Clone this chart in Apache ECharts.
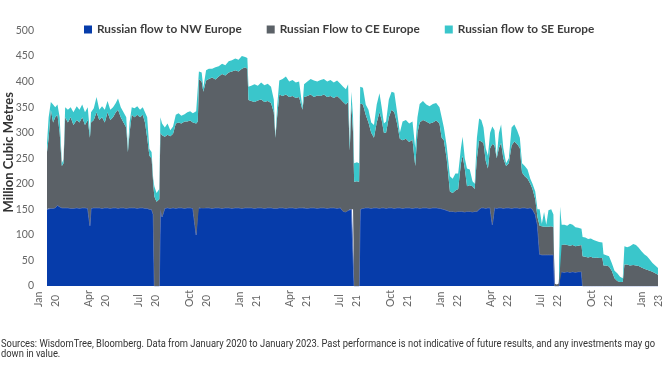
<!DOCTYPE html>
<html>
<head>
<meta charset="utf-8">
<script src="https://cdn.jsdelivr.net/npm/echarts@6/dist/echarts.min.js"></script>
<style>html,body{margin:0;padding:0;background:#fff}#c{width:670px;height:380px}</style>
</head>
<body>
<div id="c"></div>
<script>
// ---- data (million cubic metres per day) ----
const dates = [
 // 2020
 '2020-01-01','2020-01-04','2020-01-08','2020-01-12','2020-01-16','2020-01-20','2020-01-24','2020-01-28','2020-01-31',
 '2020-02-03','2020-02-08','2020-02-13','2020-02-18','2020-02-24','2020-02-29',
 '2020-03-05','2020-03-10','2020-03-15','2020-03-19','2020-03-21','2020-03-26','2020-03-31',
 '2020-04-05','2020-04-10','2020-04-15','2020-04-20','2020-04-25','2020-04-30',
 '2020-05-05','2020-05-09','2020-05-14','2020-05-19','2020-05-24','2020-05-27','2020-05-30',
 '2020-06-03','2020-06-08','2020-06-13','2020-06-18','2020-06-23','2020-06-27',
 '2020-07-01','2020-07-05','2020-07-09','2020-07-12','2020-07-14','2020-07-18','2020-07-23','2020-07-25','2020-07-28',
 '2020-08-02','2020-08-07','2020-08-12','2020-08-17','2020-08-22','2020-08-27',
 '2020-09-01','2020-09-07','2020-09-12','2020-09-17','2020-09-22','2020-09-28',
 '2020-10-01','2020-10-03','2020-10-08','2020-10-11','2020-10-16','2020-10-21','2020-10-27',
 '2020-11-02','2020-11-08','2020-11-14','2020-11-20','2020-11-26',
 '2020-12-02','2020-12-08','2020-12-14','2020-12-20','2020-12-26','2020-12-30',
 // 2021
 '2021-01-01','2021-01-06','2021-01-12','2021-01-18','2021-01-24','2021-01-30',
 '2021-02-05','2021-02-11','2021-02-16','2021-02-19','2021-02-22','2021-02-26',
 '2021-03-04','2021-03-10','2021-03-16','2021-03-22','2021-03-28',
 '2021-04-03','2021-04-09','2021-04-12','2021-04-18','2021-04-24','2021-04-30',
 '2021-05-06','2021-05-12','2021-05-18','2021-05-24','2021-05-30',
 '2021-06-05','2021-06-11','2021-06-17','2021-06-22','2021-06-27',
 '2021-07-01','2021-07-04','2021-07-07','2021-07-10','2021-07-12','2021-07-17','2021-07-21','2021-07-23','2021-07-28',
 '2021-08-02','2021-08-07','2021-08-12','2021-08-17','2021-08-22','2021-08-27','2021-08-31',
 '2021-09-04','2021-09-08','2021-09-13','2021-09-18','2021-09-23','2021-09-28',
 '2021-10-03','2021-10-08','2021-10-14','2021-10-20','2021-10-26','2021-10-31',
 '2021-11-04','2021-11-08','2021-11-14','2021-11-20','2021-11-26',
 '2021-12-02','2021-12-08','2021-12-14','2021-12-18','2021-12-22','2021-12-27',
 // 2022
 '2022-01-02','2022-01-07','2022-01-12','2022-01-17','2022-01-22','2022-01-25','2022-01-29',
 '2022-02-02','2022-02-07','2022-02-12','2022-02-16','2022-02-20','2022-02-24','2022-02-28',
 '2022-03-04','2022-03-08','2022-03-12','2022-03-16','2022-03-20','2022-03-24','2022-03-28',
 '2022-04-01','2022-04-05','2022-04-09','2022-04-14','2022-04-19','2022-04-24','2022-04-29',
 '2022-05-04','2022-05-09','2022-05-13','2022-05-18','2022-05-23','2022-05-28',
 '2022-06-01','2022-06-06','2022-06-10','2022-06-14','2022-06-18','2022-06-22','2022-06-26','2022-06-30',
 '2022-07-05','2022-07-09','2022-07-11','2022-07-15','2022-07-19','2022-07-21','2022-07-24','2022-07-29',
 '2022-08-03','2022-08-08','2022-08-13','2022-08-18','2022-08-23','2022-08-29','2022-08-31',
 '2022-09-05','2022-09-10','2022-09-15','2022-09-20','2022-09-25','2022-09-30',
 '2022-10-06','2022-10-08','2022-10-13','2022-10-18','2022-10-23','2022-10-28',
 '2022-11-02','2022-11-07','2022-11-12','2022-11-15','2022-11-20','2022-11-25',
 '2022-12-01','2022-12-06','2022-12-11','2022-12-16','2022-12-21','2022-12-26','2022-12-31',
 // 2023
 '2023-01-05','2023-01-10','2023-01-15'
];

const nwFlow = [
 150,152,152,152,153,158,155,153,153,
 153,153,152,152,153,152,
 153,153,152,118,152,153,153,
 153,152,153,153,152,153,
 153,152,153,153,152,152,153,
 153,153,152,153,153,152,
 152,150,150,140,0,0,0,150,135,
 152,153,152,153,152,153,
 153,152,153,153,152,100,
 152,153,153,152,153,153,152,
 153,153,152,153,153,
 152,153,153,152,153,153,
 153,153,152,153,153,152,
 153,153,152,153,152,153,
 153,152,153,153,152,
 153,153,153,152,153,153,
 152,153,153,152,153,
 153,152,153,146,145,
 148,150,150,150,0,0,0,150,152,
 153,153,152,153,153,152,153,
 153,152,153,153,152,153,
 153,152,153,153,152,153,
 153,152,153,153,152,
 153,153,152,151,150,148,
 146,146,145,146,146,146,145,
 146,146,145,146,146,150,153,
 153,152,153,153,120,153,152,
 153,153,152,153,153,152,153,
 153,152,153,153,152,153,
 150,140,120,62,61,61,61,61,
 61,61,0,0,0,28,28,27,
 28,27,28,27,28,28,0,
 0,0,0,0,0,0,
 0,0,0,0,0,0,
 0,0,0,0,0,0,
 0,0,0,0,0,0,0,
 0,0,0
];

const ceFlow = [
 112,138,193,168,177,177,145,82,87,
 177,167,178,163,172,168,
 177,162,173,172,168,172,187,
 172,178,167,187,173,177,
 187,193,177,167,158,110,147,
 182,177,183,177,182,168,
 138,105,100,60,175,165,170,150,160,
 140,143,141,145,166,167,
 165,170,169,171,168,218,
 170,252,247,228,249,252,256,
 251,257,263,259,265,
 268,269,267,273,275,272,
 211,209,208,210,212,208,
 209,205,188,137,178,222,
 219,223,217,219,216,
 217,192,217,220,222,217,
 221,219,222,218,219,
 215,220,213,214,210,
 212,115,205,150,204,205,204,207,203,
 182,167,148,137,167,188,172,
 147,148,177,192,188,165,
 135,133,135,129,134,82,
 147,168,172,169,166,
 167,171,166,139,135,102,
 39,36,42,44,94,109,85,
 49,51,50,44,104,135,130,
 127,93,77,117,158,122,98,
 117,127,98,82,87,123,130,
 125,118,69,62,58,47,
 40,30,15,56,56,55,55,55,
 56,54,5,3,5,52,52,54,
 52,52,52,51,51,52,58,
 57,56,57,55,56,55,
 55,40,40,38,30,15,
 10,8,8,42,42,40,
 41,40,39,36,34,32,30,
 28,25,22
];

const seFlow = [
 18,40,15,35,20,20,30,5,8,
 20,25,20,25,27,25,
 25,25,25,10,20,23,30,
 20,22,25,22,20,20,
 18,22,20,20,20,6,20,
 15,18,17,15,15,20,
 40,13,12,10,20,17,20,30,23,
 18,22,12,14,17,18,
 15,14,18,18,18,24,
 23,15,18,8,20,20,17,
 24,20,20,20,22,
 22,23,23,25,20,21,
 26,30,35,29,33,33,
 34,32,25,2,20,27,
 33,35,30,31,30,
 30,5,25,28,30,32,
 27,31,30,30,31,
 30,30,30,30,30,
 35,15,25,30,36,37,36,33,33,
 20,25,20,25,35,37,25,
 18,22,35,35,38,22,
 12,37,37,36,36,35,
 30,36,37,33,34,
 36,34,32,40,25,25,
 30,28,33,30,30,37,20,
 35,31,10,10,40,43,42,
 30,25,25,30,34,30,2,
 30,36,20,5,10,35,33,
 27,20,18,20,18,10,
 10,15,15,32,5,29,4,32,
 33,25,0,0,0,75,40,39,
 38,43,40,37,35,32,38,
 38,36,36,35,32,31,
 30,22,20,20,15,15,
 15,10,7,36,34,38,
 41,40,36,32,28,26,22,
 17,15,13
];

const seriesNames = ['Russian flow to NW Europe', 'Russian Flow to CE Europe', 'Russian flow to SE Europe'];
const tickDates = ['2020-01-01','2020-04-01','2020-07-01','2020-10-01','2021-01-01','2021-04-01','2021-07-01','2021-10-01','2022-01-01','2022-04-01','2022-07-01','2022-10-01','2023-01-01'];
const tickLabels = ['Jan\n20','Apr\n20','Jul\n20','Oct\n20','Jan\n21','Apr\n21','Jul\n21','Oct\n21','Jan\n22','Apr\n22','Jul\n22','Oct\n22','Jan\n23'];
const sourceLines = [
 'Sources: WisdomTree, Bloomberg. Data from January 2020 to January 2023. Past performance is not indicative of future results, and any investments may go',
 'down in value.'
];

// ---- styling ----
const colors = ['#063caa', '#5b6167', '#3ac6cb'];
const chart = echarts.init(document.getElementById('c'), null, {renderer: 'canvas'});
const toTime = d => Date.UTC(+d.slice(0, 4), +d.slice(5, 7) - 1, +d.slice(8, 10));
const tickTimes = tickDates.map(toTime);
const times = dates.map(toTime);
const xMin = tickTimes[0];
const xMax = times[times.length - 1];

const ctx = document.createElement('canvas').getContext('2d');
const srcFont = '10px Roboto';
ctx.font = srcFont;
const srcScale = 654 / ctx.measureText(sourceLines[0]).width;

const valueSets = [nwFlow, ceFlow, seFlow];
const series = valueSets.map((vals, i) => ({
  name: seriesNames[i],
  type: 'line',
  xAxisIndex: 0,
  stack: 'flow',
  symbol: 'none',
  showSymbol: false,
  data: times.map((t, j) => [t, vals[j]]),
  lineStyle: i === 0 ? {width: 1, color: '#5a77c0'} : {width: 1, color: colors[i], opacity: 0},
  itemStyle: {color: colors[i]},
  areaStyle: {color: colors[i], opacity: 1},
  emphasis: {disabled: true},
  z: 2 + i
}));

chart.setOption({
  animation: false,
  grid: {left: 47, right: 12, top: 30.5, bottom: 94, containLabel: false, outerBoundsMode: 'none'},
  legend: {
    left: 79, top: 18.5, itemWidth: 8, itemHeight: 8, itemGap: 25, icon: 'rect',
    selectedMode: false,
    textStyle: {fontFamily: 'Lato', fontWeight: 'bold', fontSize: 11.8, color: '#3d3d3d'},
    data: seriesNames.map((n, i) => ({name: n, itemStyle: {color: colors[i]}}))
  },
  xAxis: [{
    type: 'time', min: xMin, max: xMax,
    axisLine: {show: false}, axisTick: {show: false}, splitLine: {show: false},
    axisLabel: {show: false}
  }, {
    type: 'value', min: xMin, max: xMax, position: 'bottom',
    axisLine: {show: false}, axisTick: {show: false}, splitLine: {show: false},
    axisLabel: {
      customValues: tickTimes,
      formatter: v => { const k = tickTimes.indexOf(v); return k >= 0 ? tickLabels[k] : ''; },
      rotate: 90, align: 'left', verticalAlign: 'middle', margin: 21, lineHeight: 17,
      fontFamily: 'Lato', fontSize: 10.5, color: '#666',
      hideOverlap: false, showMinLabel: true, showMaxLabel: true
    }
  }],
  yAxis: {
    type: 'value', min: 0, max: 500, interval: 50,
    name: 'Million Cubic Metres', nameLocation: 'middle', nameGap: 31.5, nameMoveOverlap: false,
    nameTextStyle: {fontFamily: 'Lato', fontWeight: 'bold', fontSize: 13, color: '#333', padding: [0, 0, 0, 12]},
    axisLine: {show: false}, axisTick: {show: false}, splitLine: {show: false},
    axisLabel: {fontFamily: 'Lato', fontSize: 10.5, color: '#666', margin: 13}
  },
  graphic: sourceLines.map((t, i) => ({
    type: 'text', x: 1, y: 344 + i * 10, scaleX: srcScale, silent: true,
    style: {text: t, font: srcFont, fill: '#333', textAlign: 'left', textVerticalAlign: 'middle'}
  })),
  series: series
});
</script>
</body>
</html>
